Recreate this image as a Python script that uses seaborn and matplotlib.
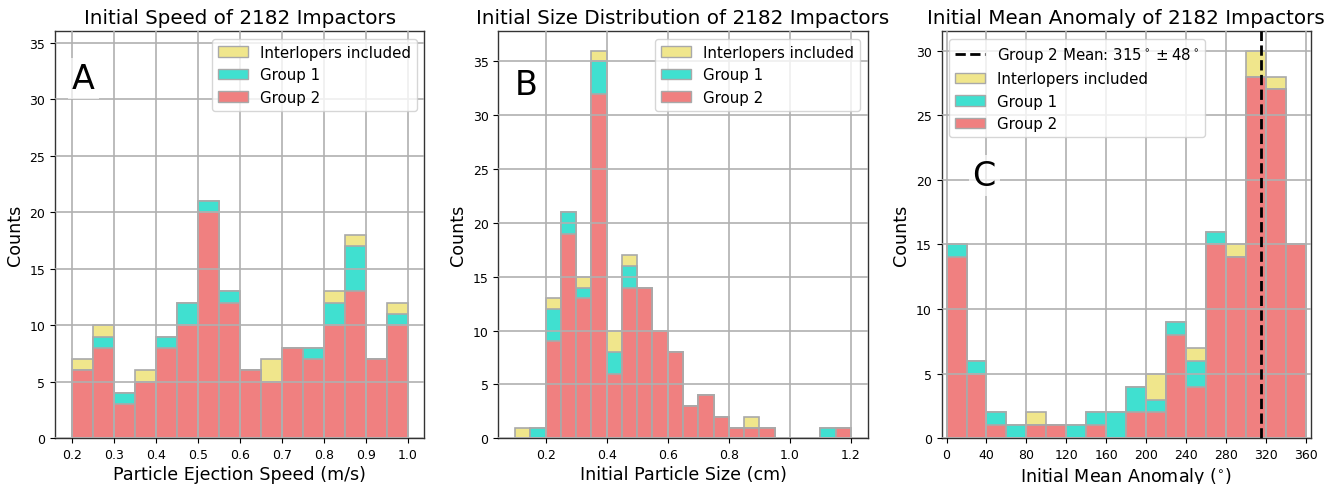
import numpy as np
import pandas as pd
import matplotlib
matplotlib.use("Agg")
import matplotlib.pyplot as plt
from matplotlib.patches import Patch
from matplotlib.lines import Line2D
import seaborn as sns

# ---------------- data (bar heights) ----------------
speed_edges = [0.20, 0.25, 0.30, 0.35, 0.40, 0.45, 0.50, 0.55, 0.60,
               0.65, 0.70, 0.75, 0.80, 0.85, 0.90, 0.95, 1.00]
speed_all = [7, 10, 4, 6, 9, 12, 21, 13, 6, 7, 8, 8, 13, 18, 7, 12]
speed_g1 = [6, 9, 4, 5, 9, 12, 21, 13, 6, 5, 8, 8, 12, 17, 7, 11]
speed_g2 = [6, 8, 3, 5, 8, 10, 20, 12, 6, 5, 8, 7, 10, 13, 7, 10]

size_edges = [0.10, 0.15, 0.20, 0.25, 0.30, 0.35, 0.40, 0.45, 0.50, 0.55, 0.60,
              0.65, 0.70, 0.75, 0.80, 0.85, 0.90, 0.95, 1.00, 1.05, 1.10, 1.15, 1.20]
size_all = [1, 1, 13, 21, 15, 36, 10, 17, 14, 10, 8, 3, 4, 2, 1, 2, 1, 0, 0, 0, 1, 1]
size_g1 = [0, 1, 12, 21, 14, 35, 8, 16, 14, 10, 8, 3, 4, 2, 1, 1, 1, 0, 0, 0, 1, 1]
size_g2 = [0, 0, 9, 19, 13, 32, 6, 14, 14, 10, 8, 3, 4, 2, 1, 1, 1, 0, 0, 0, 0, 1]

anom_edges = [0, 20, 40, 60, 80, 100, 120, 140, 160, 180, 200,
              220, 240, 260, 280, 300, 320, 340, 360]
anom_all = [15, 6, 2, 1, 2, 1, 1, 2, 2, 4, 5, 9, 7, 16, 15, 30, 28, 15]
anom_g1 = [15, 6, 2, 1, 1, 1, 1, 2, 2, 4, 3, 9, 6, 16, 14, 28, 27, 15]
anom_g2 = [14, 5, 1, 0, 1, 1, 0, 1, 0, 2, 2, 8, 4, 15, 14, 28, 27, 15]

g2_mean = 315
g2_std = 48

series_labels = ["Interlopers included", "Group 1", "Group 2"]
series_colors = ["khaki", "turquoise", "lightcoral"]
titles = ["Initial Speed of 2182 Impactors",
          "Initial Size Distribution of 2182 Impactors",
          "Initial Mean Anomaly of 2182 Impactors"]
xlabels = ["Particle Ejection Speed (m/s)", "Initial Particle Size (cm)",
           r"Initial Mean Anomaly ($^{\circ}$)"]
panel_letters = ["A", "B", "C"]

# ---------------- style ----------------
plt.rcParams.update({
    "font.family": ["DejaVu Sans"],
    "axes.edgecolor": "#333333",
    "axes.linewidth": 1.0,
    "grid.color": "#b0b0b0",
    "grid.linewidth": 1.2,
    "xtick.labelsize": 9,
    "ytick.labelsize": 9,
    "xtick.direction": "out",
    "ytick.direction": "out",
})

fig, axes = plt.subplots(1, 3, figsize=(13.41, 4.85), dpi=100)
fig.subplots_adjust(left=0.041, right=0.9776, top=0.9334, bottom=0.0942, wspace=0.2)

EDGE = "darkgray"


def draw_panel(ax, edges, layers):
    edges = np.asarray(edges, dtype=float)
    centers = (edges[:-1] + edges[1:]) / 2
    for heights, color in zip(layers, series_colors):
        df = pd.DataFrame({"x": centers, "w": np.asarray(heights, dtype=float)})
        sns.histplot(data=df, x="x", weights="w", bins=list(edges), stat="count",
                     color=color, alpha=1.0, edgecolor=EDGE, linewidth=1.2,
                     ax=ax)
    ax.set_axisbelow(False)
    ax.grid(True)


panels = [
    (speed_edges, [speed_all, speed_g1, speed_g2]),
    (size_edges, [size_all, size_g1, size_g2]),
    (anom_edges, [anom_all, anom_g1, anom_g2]),
]

for ax, (edges, layers), title, xl in zip(axes, panels, titles, xlabels):
    draw_panel(ax, edges, layers)
    ax.set_title(title, fontsize=14.3)
    ax.set_xlabel(xl, fontsize=12.6, labelpad=2.5)
    ax.set_ylabel("Counts", fontsize=12.6)

patch_handles = [Patch(facecolor=c, edgecolor=EDGE, label=l)
                 for c, l in zip(series_colors, series_labels)]

# Panel A
axA = axes[0]
axA.set_ylim(0, 36)
axA.set_yticks(np.arange(0, 36, 5))
axA.set_xticks(np.round(np.arange(0.2, 1.01, 0.1), 1))
axA.legend(handles=patch_handles, loc="upper right", fontsize=10.8)

# Panel B
axB = axes[1]
axB.set_yticks(np.arange(0, 36, 5))
axB.legend(handles=patch_handles, loc="upper right", fontsize=10.8)

# Panel C
axC = axes[2]
axC.set_xlim(-5, 365)
axC.set_xticks(np.arange(0, 361, 40))
axC.set_yticks(np.arange(0, 31, 5))
axC.axvline(g2_mean, color="black", linestyle="--", linewidth=2, zorder=4)
mean_handle = Line2D([], [], color="black", linestyle="--", linewidth=2,
                     label=r"Group 2 Mean: $%d^\circ \pm %d^\circ$" % (g2_mean, g2_std))
axC.legend(handles=[mean_handle] + patch_handles, loc="upper left", fontsize=10.8)

letter_pos = [(0.2, 31), (0.1, 32), (26, 19.6)]
for ax, letter, (lx, ly) in zip(axes, panel_letters, letter_pos):
    ax.text(lx, ly, letter, fontsize=24, ha="left", va="baseline", zorder=4,
            bbox=dict(facecolor="white", edgecolor="none", alpha=0.7, pad=3))

fig.savefig("out.png", dpi=100)
